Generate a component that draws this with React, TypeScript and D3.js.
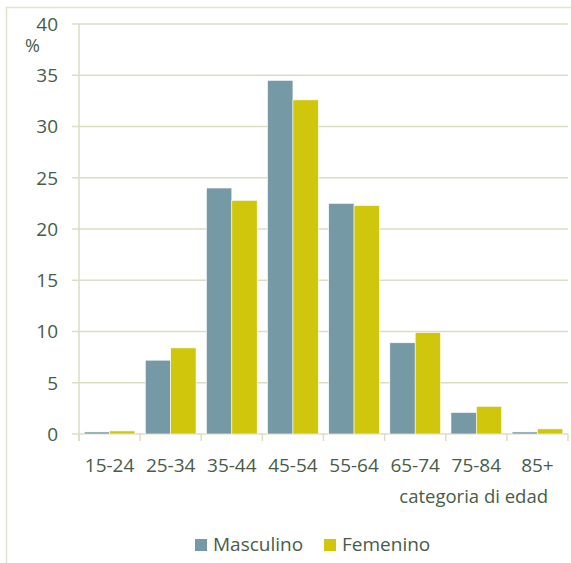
import React, { useEffect, useRef } from "react";
import * as d3 from "d3";

// values
const categories = ["15-24", "25-34", "35-44", "45-54", "55-64", "65-74", "75-84", "85+"];
const masculino = [0.2, 7.2, 24.0, 34.5, 22.5, 8.9, 2.1, 0.2];
const femenino = [0.3, 8.4, 22.8, 32.6, 22.3, 9.9, 2.7, 0.5];
const yTicks = [0, 5, 10, 15, 20, 25, 30, 35, 40];
const seriesNames = ["Masculino", "Femenino"];
const seriesColors = ["#7699a6", "#d0c60b"];

const W = 571,
  H = 563;
const textColor = "#485c48";
const gridColor = "#dddcc6";
const font = "'Open Sans', sans-serif";

const App = () => {
  const ref = useRef<SVGSVGElement>(null);

  useEffect(() => {
    const svg = d3.select(ref.current);
    svg.selectAll("*").remove();

    const left = 79,
      right = 568,
      top = 24,
      bottom = 434;

    // outer frame (cropped at right and bottom)
    svg
      .append("path")
      .attr("d", `M6.5,${H} V7.5 H${W}`)
      .attr("fill", "none")
      .attr("stroke", "#e3e2cf")
      .attr("stroke-width", 1.5);

    const x = d3.scaleBand().domain(categories).range([left, right]).paddingInner(0.17).paddingOuter(0.085);
    const x1 = d3.scaleBand().domain(seriesNames).range([0, x.bandwidth()]);
    const y = d3.scaleLinear().domain([0, 40]).range([bottom, top]);

    // gridlines
    svg
      .append("g")
      .selectAll("line")
      .data(yTicks)
      .enter()
      .append("line")
      .attr("x1", left - 7)
      .attr("x2", right)
      .attr("y1", (d) => y(d))
      .attr("y2", (d) => y(d))
      .attr("stroke", gridColor)
      .attr("stroke-width", 1.5);

    // y labels
    svg
      .append("g")
      .selectAll("text")
      .data(yTicks)
      .enter()
      .append("text")
      .attr("x", 58)
      .attr("y", (d) => y(d))
      .attr("dy", "0.36em")
      .attr("text-anchor", "end")
      .attr("fill", textColor)
      .style("font-family", font)
      .style("font-size", "19px")
      .text((d) => d);

    svg
      .append("text")
      .attr("x", 25)
      .attr("y", 52)
      .attr("fill", textColor)
      .style("font-family", font)
      .style("font-size", "18px")
      .text("%");

    // bars
    const groups = svg
      .append("g")
      .selectAll("g")
      .data(categories)
      .enter()
      .append("g")
      .attr("transform", (d) => `translate(${x(d)},0)`);

    groups
      .selectAll("rect")
      .data((d, i) => [
        { name: seriesNames[0], v: masculino[i] },
        { name: seriesNames[1], v: femenino[i] },
      ])
      .enter()
      .append("rect")
      .attr("x", (d) => x1(d.name)!)
      .attr("width", x1.bandwidth())
      .attr("y", (d) => y(d.v))
      .attr("height", (d) => bottom - y(d.v))
      .attr("fill", (d, i) => seriesColors[i])
      .attr("stroke", "#ffffff")
      .attr("stroke-width", 0.6);

    // y axis line and x ticks
    svg
      .append("line")
      .attr("x1", left)
      .attr("x2", left)
      .attr("y1", top)
      .attr("y2", bottom + 7)
      .attr("stroke", gridColor)
      .attr("stroke-width", 1.5);

    const step = x.step();
    svg
      .append("g")
      .selectAll("line")
      .data(d3.range(categories.length + 1))
      .enter()
      .append("line")
      .attr("x1", (i) => left + i * step)
      .attr("x2", (i) => left + i * step)
      .attr("y1", bottom)
      .attr("y2", bottom + 7)
      .attr("stroke", gridColor)
      .attr("stroke-width", 1.5);

    // x labels
    svg
      .append("g")
      .selectAll("text")
      .data(categories)
      .enter()
      .append("text")
      .attr("x", (d) => x(d)! + x.bandwidth() / 2)
      .attr("y", 472)
      .attr("text-anchor", "middle")
      .attr("fill", textColor)
      .style("font-family", font)
      .style("font-size", "19px")
      .text((d) => d);

    svg
      .append("text")
      .attr("x", 548)
      .attr("y", 503)
      .attr("text-anchor", "end")
      .attr("fill", textColor)
      .style("font-family", font)
      .style("font-size", "18.5px")
      .text("categoria di edad");

    // legend
    const legendX = [195, 324];
    seriesNames.forEach((name, i) => {
      svg
        .append("rect")
        .attr("x", legendX[i])
        .attr("y", 539)
        .attr("width", 12)
        .attr("height", 12)
        .attr("fill", seriesColors[i]);
      svg
        .append("text")
        .attr("x", legendX[i] + 18)
        .attr("y", 551)
        .attr("fill", textColor)
        .style("font-family", font)
        .style("font-size", "19px")
        .text(name);
    });
  }, []);

  return (
    <svg
      ref={ref}
      width={W}
      height={H}
      style={{ position: "absolute", left: 0, top: 0, background: "#fff" }}
    />
  );
};

export default App;
